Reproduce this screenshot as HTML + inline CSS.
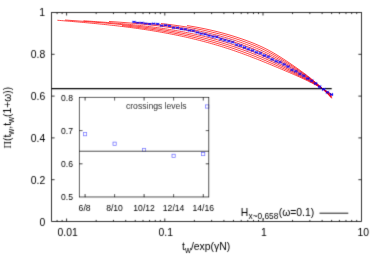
<!DOCTYPE html>
<html><head><meta charset="utf-8"><title>plot</title>
<style>
html,body{margin:0;padding:0;background:#fff;}
svg{display:block;}
text{font-family:"Liberation Sans",sans-serif;fill:#000;}
.s{font-family:"Liberation Serif",serif;}
</style></head><body>
<svg width="380" height="266" viewBox="0 0 380 266">
<defs><filter id="sf" x="0" y="0" width="380" height="266" filterUnits="userSpaceOnUse"><feConvolveMatrix order="3" kernelMatrix="0.0144 0.0912 0.0144 0.0912 0.5776 0.0912 0.0144 0.0912 0.0144" divisor="1" edgeMode="duplicate"/></filter></defs>
<rect width="380" height="266" fill="#fff"/>
<!-- red curves -->
<g fill="none" stroke="#ff0000" stroke-width="0.72">
<path d="M57.4,20.25 L59.4,20.42 L61.4,20.58 L63.4,20.74 L65.4,20.91 L67.4,21.08 L69.4,21.24 L71.4,21.41 L73.4,21.58 L75.4,21.75 L77.4,21.92 L79.4,22.10 L81.4,22.27 L83.4,22.45 L85.4,22.63 L87.4,22.81 L89.4,23.00 L91.4,23.19 L93.4,23.38 L95.4,23.57 L97.4,23.76 L99.4,23.96 L101.4,24.16 L103.4,24.37 L105.4,24.58 L107.4,24.79 L109.4,25.00 L111.4,25.22 L113.4,25.45 L115.4,25.67 L117.4,25.90 L119.4,26.14 L121.4,26.38 L123.4,26.62 L125.4,26.87 L127.4,27.12 L129.4,27.38 L131.4,27.64 L133.4,27.91 L135.4,28.18 L137.4,28.46 L139.4,28.74 L141.4,29.03 L143.4,29.32 L145.4,29.62 L147.4,29.93 L149.4,30.24 L151.4,30.56 L153.4,30.89 L155.4,31.22 L157.4,31.55 L159.4,31.90 L161.4,32.25 L163.4,32.61 L165.4,32.97 L167.4,33.34 L169.4,33.72 L171.4,34.11 L173.4,34.50 L175.4,34.91 L177.4,35.32 L179.4,35.73 L181.4,36.16 L183.4,36.59 L185.4,37.03 L187.4,37.48 L189.4,37.94 L191.4,38.41 L193.4,38.89 L195.4,39.37 L197.4,39.86 L199.4,40.37 L201.4,40.88 L203.4,41.40 L205.4,41.93 L207.4,42.47 L209.4,43.02 L211.4,43.58 L213.4,44.15 L215.4,44.73 L217.4,45.32 L219.4,45.92 L221.4,46.53 L223.4,47.15 L225.4,47.79 L227.4,48.43 L229.4,49.08 L231.4,49.75 L233.4,50.42 L235.4,51.11 L237.4,51.81 L239.4,52.52 L241.4,53.24 L243.4,53.96 L245.4,54.70 L247.4,55.45 L249.4,56.20 L251.4,56.97 L253.4,57.74 L255.4,58.52 L257.4,59.31 L259.4,60.10 L261.4,60.90 L263.4,61.70 L265.4,62.51 L267.4,63.33 L269.4,64.15 L271.4,64.98 L273.4,65.81 L275.4,66.64 L277.4,67.48 L279.4,68.32 L281.4,69.16 L283.4,70.01 L285.4,70.86 L287.4,71.71 L289.4,72.56 L291.4,73.43 L293.4,74.29 L295.4,75.17 L297.4,76.06 L299.4,76.96 L301.4,77.87 L303.4,78.80 L305.4,79.74 L307.4,80.70 L309.4,81.68 L311.4,82.68 L313.4,83.70 L315.4,84.75 L317.4,85.82 L319.4,86.92 L321.4,88.04 L323.4,89.19 L325.4,90.38 L327.4,91.60 L329.4,92.85 L331.4,94.13 L331.7,94.33"/><path d="M122.0,25.53 L124.0,25.76 L126.0,25.98 L128.0,26.22 L130.0,26.45 L132.0,26.70 L134.0,26.94 L136.0,27.20 L138.0,27.45 L140.0,27.72 L142.0,27.99 L144.0,28.26 L146.0,28.54 L148.0,28.83 L150.0,29.12 L152.0,29.42 L154.0,29.72 L156.0,30.04 L158.0,30.35 L160.0,30.68 L162.0,31.01 L164.0,31.35 L166.0,31.70 L168.0,32.05 L170.0,32.41 L172.0,32.78 L174.0,33.15 L176.0,33.54 L178.0,33.93 L180.0,34.33 L182.0,34.74 L184.0,35.16 L186.0,35.58 L188.0,36.01 L190.0,36.46 L192.0,36.91 L194.0,37.37 L196.0,37.84 L198.0,38.32 L200.0,38.81 L202.0,39.31 L204.0,39.81 L206.0,40.33 L208.0,40.86 L210.0,41.40 L212.0,41.95 L214.0,42.51 L216.0,43.08 L218.0,43.66 L220.0,44.25 L222.0,44.85 L224.0,45.46 L226.0,46.09 L228.0,46.73 L230.0,47.37 L232.0,48.03 L234.0,48.70 L236.0,49.39 L238.0,50.08 L240.0,50.78 L242.0,51.50 L244.0,52.23 L246.0,52.96 L248.0,53.71 L250.0,54.47 L252.0,55.24 L254.0,56.01 L256.0,56.80 L258.0,57.60 L260.0,58.41 L262.0,59.22 L264.0,60.05 L266.0,60.89 L268.0,61.73 L270.0,62.59 L272.0,63.45 L274.0,64.32 L276.0,65.21 L278.0,66.09 L280.0,66.99 L282.0,67.89 L284.0,68.80 L286.0,69.71 L288.0,70.62 L290.0,71.54 L292.0,72.47 L294.0,73.41 L296.0,74.36 L298.0,75.32 L300.0,76.30 L302.0,77.29 L304.0,78.29 L306.0,79.31 L308.0,80.35 L310.0,81.42 L312.0,82.50 L314.0,83.62 L316.0,84.76 L318.0,85.93 L320.0,87.13 L322.0,88.36 L324.0,89.63 L326.0,90.94 L328.0,92.28 L330.0,93.67 L331.7,94.88"/><path d="M65.0,20.02 L67.0,20.16 L69.0,20.30 L71.0,20.44 L73.0,20.59 L75.0,20.73 L77.0,20.87 L79.0,21.02 L81.0,21.16 L83.0,21.31 L85.0,21.46 L87.0,21.61 L89.0,21.76 L91.0,21.91 L93.0,22.07 L95.0,22.22 L97.0,22.38 L99.0,22.55 L101.0,22.71 L103.0,22.88 L105.0,23.04 L107.0,23.22 L109.0,23.39 L111.0,23.57 L113.0,23.75 L115.0,23.94 L117.0,24.13 L119.0,24.32 L121.0,24.52 L123.0,24.72 L125.0,24.92 L127.0,25.13 L129.0,25.34 L131.0,25.56 L133.0,25.79 L135.0,26.01 L137.0,26.25 L139.0,26.49 L141.0,26.73 L143.0,26.98 L145.0,27.24 L147.0,27.50 L149.0,27.77 L151.0,28.04 L153.0,28.32 L155.0,28.61 L157.0,28.90 L159.0,29.20 L161.0,29.51 L163.0,29.82 L165.0,30.14 L167.0,30.47 L169.0,30.81 L171.0,31.15 L173.0,31.50 L175.0,31.86 L177.0,32.23 L179.0,32.61 L181.0,32.99 L183.0,33.39 L185.0,33.79 L187.0,34.20 L189.0,34.62 L191.0,35.05 L193.0,35.49 L195.0,35.93 L197.0,36.39 L199.0,36.86 L201.0,37.34 L203.0,37.82 L205.0,38.32 L207.0,38.83 L209.0,39.35 L211.0,39.88 L213.0,40.42 L215.0,40.97 L217.0,41.53 L219.0,42.10 L221.0,42.69 L223.0,43.28 L225.0,43.89 L227.0,44.51 L229.0,45.14 L231.0,45.79 L233.0,46.44 L235.0,47.11 L237.0,47.79 L239.0,48.49 L241.0,49.19 L243.0,49.91 L245.0,50.63 L247.0,51.37 L249.0,52.12 L251.0,52.89 L253.0,53.66 L255.0,54.45 L257.0,55.25 L259.0,56.06 L261.0,56.89 L263.0,57.73 L265.0,58.58 L267.0,59.45 L269.0,60.33 L271.0,61.22 L273.0,62.13 L275.0,63.05 L277.0,63.99 L279.0,64.93 L281.0,65.88 L283.0,66.84 L285.0,67.81 L287.0,68.79 L289.0,69.77 L291.0,70.76 L293.0,71.77 L295.0,72.78 L297.0,73.81 L299.0,74.84 L301.0,75.89 L303.0,76.96 L305.0,78.05 L307.0,79.15 L309.0,80.28 L311.0,81.44 L313.0,82.62 L315.0,83.83 L317.0,85.08 L319.0,86.36 L321.0,87.67 L323.0,89.03 L325.0,90.42 L327.0,91.86 L329.0,93.35 L331.0,94.89 L331.7,95.44"/><path d="M83.5,20.79 L85.5,20.92 L87.5,21.06 L89.5,21.19 L91.5,21.33 L93.5,21.47 L95.5,21.61 L97.5,21.75 L99.5,21.89 L101.5,22.04 L103.5,22.19 L105.5,22.34 L107.5,22.49 L109.5,22.65 L111.5,22.81 L113.5,22.97 L115.5,23.13 L117.5,23.30 L119.5,23.48 L121.5,23.65 L123.5,23.83 L125.5,24.02 L127.5,24.21 L129.5,24.40 L131.5,24.60 L133.5,24.80 L135.5,25.01 L137.5,25.23 L139.5,25.44 L141.5,25.67 L143.5,25.90 L145.5,26.13 L147.5,26.38 L149.5,26.62 L151.5,26.88 L153.5,27.14 L155.5,27.40 L157.5,27.68 L159.5,27.96 L161.5,28.25 L163.5,28.54 L165.5,28.84 L167.5,29.15 L169.5,29.47 L171.5,29.80 L173.5,30.13 L175.5,30.47 L177.5,30.82 L179.5,31.18 L181.5,31.55 L183.5,31.92 L185.5,32.31 L187.5,32.70 L189.5,33.11 L191.5,33.52 L193.5,33.94 L195.5,34.38 L197.5,34.82 L199.5,35.27 L201.5,35.73 L203.5,36.21 L205.5,36.69 L207.5,37.19 L209.5,37.69 L211.5,38.21 L213.5,38.74 L215.5,39.28 L217.5,39.83 L219.5,40.40 L221.5,40.97 L223.5,41.56 L225.5,42.16 L227.5,42.77 L229.5,43.40 L231.5,44.04 L233.5,44.69 L235.5,45.35 L237.5,46.03 L239.5,46.72 L241.5,47.42 L243.5,48.13 L245.5,48.86 L247.5,49.59 L249.5,50.35 L251.5,51.11 L253.5,51.89 L255.5,52.69 L257.5,53.50 L259.5,54.33 L261.5,55.18 L263.5,56.04 L265.5,56.92 L267.5,57.81 L269.5,58.73 L271.5,59.66 L273.5,60.62 L275.5,61.58 L277.5,62.57 L279.5,63.57 L281.5,64.58 L283.5,65.60 L285.5,66.63 L287.5,67.67 L289.5,68.72 L291.5,69.79 L293.5,70.86 L295.5,71.95 L297.5,73.04 L299.5,74.16 L301.5,75.28 L303.5,76.42 L305.5,77.59 L307.5,78.78 L309.5,79.99 L311.5,81.23 L313.5,82.50 L315.5,83.81 L317.5,85.15 L319.5,86.54 L321.5,87.96 L323.5,89.43 L325.5,90.95 L327.5,92.52 L329.5,94.14 L331.5,95.82 L331.7,95.99"/><path d="M109.0,21.47 L111.0,21.60 L113.0,21.73 L115.0,21.87 L117.0,22.01 L119.0,22.15 L121.0,22.29 L123.0,22.44 L125.0,22.60 L127.0,22.75 L129.0,22.92 L131.0,23.08 L133.0,23.25 L135.0,23.43 L137.0,23.61 L139.0,23.79 L141.0,23.99 L143.0,24.18 L145.0,24.39 L147.0,24.59 L149.0,24.81 L151.0,25.03 L153.0,25.26 L155.0,25.49 L157.0,25.73 L159.0,25.98 L161.0,26.23 L163.0,26.50 L165.0,26.77 L167.0,27.04 L169.0,27.33 L171.0,27.62 L173.0,27.92 L175.0,28.23 L177.0,28.55 L179.0,28.88 L181.0,29.22 L183.0,29.56 L185.0,29.92 L187.0,30.28 L189.0,30.66 L191.0,31.04 L193.0,31.44 L195.0,31.84 L197.0,32.26 L199.0,32.69 L201.0,33.12 L203.0,33.57 L205.0,34.03 L207.0,34.50 L209.0,34.98 L211.0,35.48 L213.0,35.98 L215.0,36.50 L217.0,37.03 L219.0,37.57 L221.0,38.13 L223.0,38.69 L225.0,39.28 L227.0,39.87 L229.0,40.48 L231.0,41.10 L233.0,41.73 L235.0,42.38 L237.0,43.04 L239.0,43.72 L241.0,44.41 L243.0,45.11 L245.0,45.83 L247.0,46.56 L249.0,47.30 L251.0,48.07 L253.0,48.85 L255.0,49.65 L257.0,50.47 L259.0,51.31 L261.0,52.17 L263.0,53.05 L265.0,53.96 L267.0,54.89 L269.0,55.84 L271.0,56.82 L273.0,57.83 L275.0,58.86 L277.0,59.91 L279.0,60.97 L281.0,62.06 L283.0,63.17 L285.0,64.28 L287.0,65.41 L289.0,66.56 L291.0,67.71 L293.0,68.88 L295.0,70.07 L297.0,71.26 L299.0,72.47 L301.0,73.70 L303.0,74.94 L305.0,76.20 L307.0,77.49 L309.0,78.81 L311.0,80.16 L313.0,81.54 L315.0,82.97 L317.0,84.43 L319.0,85.94 L321.0,87.50 L323.0,89.11 L325.0,90.77 L327.0,92.50 L329.0,94.28 L331.0,96.13 L331.7,96.79"/><path d="M134.5,22.33 L136.5,22.49 L138.5,22.65 L140.5,22.82 L142.5,23.00 L144.5,23.18 L146.5,23.36 L148.5,23.55 L150.5,23.75 L152.5,23.95 L154.5,24.16 L156.5,24.38 L158.5,24.61 L160.5,24.84 L162.5,25.08 L164.5,25.33 L166.5,25.58 L168.5,25.84 L170.5,26.11 L172.5,26.39 L174.5,26.68 L176.5,26.98 L178.5,27.28 L180.5,27.60 L182.5,27.92 L184.5,28.26 L186.5,28.60 L188.5,28.95 L190.5,29.32 L192.5,29.69 L194.5,30.08 L196.5,30.47 L198.5,30.88 L200.5,31.30 L202.5,31.73 L204.5,32.17 L206.5,32.62 L208.5,33.08 L210.5,33.56 L212.5,34.05 L214.5,34.55 L216.5,35.06 L218.5,35.59 L220.5,36.13 L222.5,36.68 L224.5,37.25 L226.5,37.83 L228.5,38.42 L230.5,39.03 L232.5,39.65 L234.5,40.29 L236.5,40.94 L238.5,41.61 L240.5,42.29 L242.5,42.98 L244.5,43.69 L246.5,44.41 L248.5,45.15 L250.5,45.91 L252.5,46.69 L254.5,47.49 L256.5,48.31 L258.5,49.15 L260.5,50.02 L262.5,50.92 L264.5,51.84 L266.5,52.79 L268.5,53.76 L270.5,54.77 L272.5,55.81 L274.5,56.87 L276.5,57.97 L278.5,59.08 L280.5,60.22 L282.5,61.37 L284.5,62.55 L286.5,63.74 L288.5,64.94 L290.5,66.16 L292.5,67.40 L294.5,68.65 L296.5,69.91 L298.5,71.18 L300.5,72.48 L302.5,73.79 L304.5,75.12 L306.5,76.47 L308.5,77.86 L310.5,79.28 L312.5,80.74 L314.5,82.23 L316.5,83.78 L318.5,85.37 L320.5,87.01 L322.5,88.71 L324.5,90.47 L326.5,92.29 L328.5,94.18 L330.5,96.14 L331.7,97.35"/><path d="M161.0,23.56 L163.0,23.78 L165.0,24.01 L167.0,24.25 L169.0,24.49 L171.0,24.74 L173.0,25.00 L175.0,25.27 L177.0,25.55 L179.0,25.84 L181.0,26.14 L183.0,26.45 L185.0,26.76 L187.0,27.09 L189.0,27.43 L191.0,27.78 L193.0,28.14 L195.0,28.51 L197.0,28.89 L199.0,29.28 L201.0,29.68 L203.0,30.10 L205.0,30.53 L207.0,30.97 L209.0,31.42 L211.0,31.88 L213.0,32.36 L215.0,32.85 L217.0,33.36 L219.0,33.87 L221.0,34.41 L223.0,34.95 L225.0,35.51 L227.0,36.08 L229.0,36.67 L231.0,37.27 L233.0,37.89 L235.0,38.52 L237.0,39.17 L239.0,39.83 L241.0,40.51 L243.0,41.20 L245.0,41.90 L247.0,42.63 L249.0,43.37 L251.0,44.14 L253.0,44.92 L255.0,45.73 L257.0,46.57 L259.0,47.43 L261.0,48.32 L263.0,49.24 L265.0,50.19 L267.0,51.17 L269.0,52.18 L271.0,53.23 L273.0,54.32 L275.0,55.43 L277.0,56.58 L279.0,57.75 L281.0,58.95 L283.0,60.17 L285.0,61.40 L287.0,62.66 L289.0,63.93 L291.0,65.22 L293.0,66.53 L295.0,67.85 L297.0,69.19 L299.0,70.54 L301.0,71.91 L303.0,73.29 L305.0,74.70 L307.0,76.14 L309.0,77.61 L311.0,79.12 L313.0,80.67 L315.0,82.26 L317.0,83.91 L319.0,85.60 L321.0,87.36 L323.0,89.17 L325.0,91.06 L327.0,93.01 L329.0,95.04 L331.0,97.14 L331.7,97.90"/><path d="M187.0,25.57 L189.0,25.89 L191.0,26.22 L193.0,26.56 L195.0,26.91 L197.0,27.28 L199.0,27.65 L201.0,28.04 L203.0,28.44 L205.0,28.85 L207.0,29.28 L209.0,29.72 L211.0,30.17 L213.0,30.63 L215.0,31.11 L217.0,31.60 L219.0,32.11 L221.0,32.63 L223.0,33.16 L225.0,33.71 L227.0,34.27 L229.0,34.85 L231.0,35.44 L233.0,36.05 L235.0,36.68 L237.0,37.32 L239.0,37.97 L241.0,38.64 L243.0,39.33 L245.0,40.03 L247.0,40.75 L249.0,41.50 L251.0,42.26 L253.0,43.05 L255.0,43.86 L257.0,44.71 L259.0,45.58 L261.0,46.48 L263.0,47.42 L265.0,48.39 L267.0,49.39 L269.0,50.43 L271.0,51.52 L273.0,52.64 L275.0,53.80 L277.0,54.99 L279.0,56.21 L281.0,57.46 L283.0,58.73 L285.0,60.03 L287.0,61.35 L289.0,62.68 L291.0,64.04 L293.0,65.41 L295.0,66.79 L297.0,68.20 L299.0,69.62 L301.0,71.05 L303.0,72.50 L305.0,73.98 L307.0,75.49 L309.0,77.04 L311.0,78.62 L313.0,80.25 L315.0,81.93 L317.0,83.65 L319.0,85.44 L321.0,87.29 L323.0,89.21 L325.0,91.19 L327.0,93.26 L329.0,95.40 L331.0,97.63 L331.7,98.43"/>
</g>
<g filter="url(#sf)">
<!-- H line -->
<path d="M51.6,88.5H331.7" stroke="#000" stroke-width="1.25" fill="none"/>
<!-- blue points -->
<path d="M132.4,21.9h3.2M136.3,22.7h3.2M140.3,22.8h3.2M144.2,23.5h3.2M148.2,23.9h3.2M152.1,23.6h3.2M156.1,23.9h3.2M160.0,25.6h3.2M164.0,25.3h3.2M167.9,25.9h3.2M171.9,27.7h3.2M175.8,27.7h3.2M179.8,29.0h3.2M183.7,29.3h3.2M187.7,30.5h3.2M191.6,30.7h3.2M195.6,32.4h3.2M199.5,33.7h3.2M203.5,34.3h3.2M207.4,35.6h3.2M211.4,36.7h3.2M215.3,37.0h3.2M219.3,39.2h3.2M223.2,40.2h3.2M227.2,41.2h3.2M231.1,42.2h3.2M235.1,44.8h3.2M239.0,45.7h3.2M243.0,47.5h3.2M246.9,49.1h3.2M250.9,50.4h3.2M254.8,52.3h3.2M258.8,53.2h3.2M262.7,55.5h3.2M266.7,56.8h3.2M270.6,59.4h3.2M274.6,61.3h3.2M278.5,62.2h3.2M282.5,64.4h3.2M286.4,66.6h3.2M290.4,69.9h3.2M294.3,71.3h3.2M298.3,73.9h3.2M302.2,75.8h3.2M306.2,78.5h3.2M310.1,80.9h3.2M314.1,83.5h3.2M318.0,86.7h3.2M322.0,89.4h3.2M325.9,92.3h3.2M329.9,94.5h3.2" stroke="#0000ff" stroke-width="1.0" fill="none"/><path d="M132.5,21.3l3,1.2M132.5,22.5l3,-1.2M136.4,22.1l3,1.2M136.4,23.3l3,-1.2M140.4,22.2l3,1.3M140.4,23.4l3,-1.3M144.3,22.8l3,1.3M144.3,24.2l3,-1.3M148.3,23.3l3,1.4M148.3,24.6l3,-1.4M152.2,22.9l3,1.4M152.2,24.3l3,-1.4M156.2,23.2l3,1.4M156.2,24.7l3,-1.4M160.1,24.9l3,1.5M160.1,26.3l3,-1.5M164.1,24.5l3,1.5M164.1,26.0l3,-1.5M168.0,25.1l3,1.5M168.0,26.7l3,-1.5M172.0,26.9l3,1.6M172.0,28.5l3,-1.6M175.9,26.9l3,1.7M175.9,28.5l3,-1.7M179.9,28.1l3,1.8M179.9,29.9l3,-1.8M183.8,28.4l3,1.9M183.8,30.3l3,-1.9M187.8,29.5l3,2.0M187.8,31.5l3,-2.0M191.7,29.7l3,2.1M191.7,31.8l3,-2.1M195.7,31.3l3,2.2M195.7,33.5l3,-2.2M199.6,32.5l3,2.3M199.6,34.9l3,-2.3M203.6,33.0l3,2.4M203.6,35.5l3,-2.4M207.5,34.4l3,2.6M207.5,36.9l3,-2.6M211.5,35.3l3,2.7M211.5,38.0l3,-2.7M215.4,35.6l3,2.8M215.4,38.4l3,-2.8M219.4,37.7l3,2.9M219.4,40.6l3,-2.9M223.3,38.7l3,3.0M223.3,41.7l3,-3.0M227.3,39.7l3,3.0M227.3,42.7l3,-3.0M231.2,40.7l3,3.0M231.2,43.7l3,-3.0M235.2,43.3l3,3.0M235.2,46.3l3,-3.0M239.1,44.2l3,3.0M239.1,47.2l3,-3.0M243.1,46.0l3,3.0M243.1,49.0l3,-3.0M247.0,47.6l3,3.0M247.0,50.6l3,-3.0M251.0,48.9l3,3.0M251.0,51.9l3,-3.0M254.9,50.8l3,3.0M254.9,53.8l3,-3.0M258.9,51.7l3,3.0M258.9,54.7l3,-3.0M262.8,54.0l3,3.0M262.8,57.0l3,-3.0M266.8,55.3l3,3.0M266.8,58.3l3,-3.0M270.7,57.9l3,3.0M270.7,60.9l3,-3.0M274.7,59.8l3,3.0M274.7,62.8l3,-3.0M278.6,60.7l3,3.0M278.6,63.7l3,-3.0M282.6,62.9l3,3.0M282.6,65.9l3,-3.0M286.5,65.1l3,3.0M286.5,68.1l3,-3.0M290.5,68.4l3,3.0M290.5,71.4l3,-3.0M294.4,69.8l3,3.0M294.4,72.8l3,-3.0M298.4,72.4l3,3.0M298.4,75.4l3,-3.0M302.3,74.3l3,3.0M302.3,77.3l3,-3.0M306.3,77.0l3,3.0M306.3,80.0l3,-3.0M310.2,79.4l3,3.0M310.2,82.4l3,-3.0M314.2,82.0l3,3.0M314.2,85.0l3,-3.0M318.1,85.2l3,3.0M318.1,88.2l3,-3.0M322.1,87.9l3,3.0M322.1,90.9l3,-3.0M326.0,90.8l3,3.0M326.0,93.8l3,-3.0M330.0,93.0l3,3.0M330.0,96.0l3,-3.0" stroke="#0000ff" stroke-width="0.95" fill="none"/>
<!-- main frame -->
<g fill="none" stroke="#000" stroke-width="0.8">
<rect x="51.6" y="12.5" width="309.79999999999995" height="209.0"/>
<path d="M57.08,221.5v-1.6M57.08,12.5v1.6M62.11,221.5v-1.6M62.11,12.5v1.6M66.60,221.5v-3M66.60,12.5v3M96.16,221.5v-1.6M96.16,12.5v1.6M113.45,221.5v-1.6M113.45,12.5v1.6M125.72,221.5v-1.6M125.72,12.5v1.6M135.24,221.5v-1.6M135.24,12.5v1.6M143.01,221.5v-1.6M143.01,12.5v1.6M149.59,221.5v-1.6M149.59,12.5v1.6M155.28,221.5v-1.6M155.28,12.5v1.6M160.31,221.5v-1.6M160.31,12.5v1.6M164.80,221.5v-3M164.80,12.5v3M194.36,221.5v-1.6M194.36,12.5v1.6M211.65,221.5v-1.6M211.65,12.5v1.6M223.92,221.5v-1.6M223.92,12.5v1.6M233.44,221.5v-1.6M233.44,12.5v1.6M241.21,221.5v-1.6M241.21,12.5v1.6M247.79,221.5v-1.6M247.79,12.5v1.6M253.48,221.5v-1.6M253.48,12.5v1.6M258.51,221.5v-1.6M258.51,12.5v1.6M263.00,221.5v-3M263.00,12.5v3M292.56,221.5v-1.6M292.56,12.5v1.6M309.85,221.5v-1.6M309.85,12.5v1.6M322.12,221.5v-1.6M322.12,12.5v1.6M331.64,221.5v-1.6M331.64,12.5v1.6M339.41,221.5v-1.6M339.41,12.5v1.6M345.99,221.5v-1.6M345.99,12.5v1.6M351.68,221.5v-1.6M351.68,12.5v1.6M356.71,221.5v-1.6M356.71,12.5v1.6M51.6,179.70h3M361.4,179.70h-3M51.6,137.90h3M361.4,137.90h-3M51.6,96.10h3M361.4,96.10h-3M51.6,54.30h3M361.4,54.30h-3"/>
</g>
<!-- inset -->
<rect x="79.5" y="97.5" width="129.25" height="99.5" fill="#fff"/>
<g fill="none" stroke="#5050ff" stroke-width="0.65"><rect x="83.5" y="132.6" width="3.2" height="3.2"/><rect x="113.0" y="142.1" width="3.2" height="3.2"/><rect x="142.5" y="148.3" width="3.2" height="3.2"/><rect x="172.0" y="154.2" width="3.2" height="3.2"/><rect x="201.6" y="152.5" width="3.2" height="3.2"/><rect x="205.6" y="104.9" width="3.2" height="3.2"/></g>
<rect x="79.5" y="97.5" width="129.25" height="99.5" fill="none" stroke="#000" stroke-width="0.8"/>
<path d="M85.1,197.0v-3M85.1,97.5v3M114.6,197.0v-3M114.6,97.5v3M144.1,197.0v-3M144.1,97.5v3M173.6,197.0v-3M173.6,97.5v3M203.3,197.0v-3M203.3,97.5v3M79.5,163.8h3M208.75,163.8h-3M79.5,130.6h3M208.75,130.6h-3" stroke="#000" stroke-width="0.8" fill="none"/>
<path d="M79.5,151.25H208.75" stroke="#000" stroke-width="0.8" fill="none"/>
<!-- main tick labels -->
<g font-size="10.4px" text-anchor="end">
<text x="45" y="16.2">1</text>
<text x="45.3" y="58.1">0.8</text>
<text x="45.3" y="99.9">0.6</text>
<text x="45.3" y="141.9">0.4</text>
<text x="45.3" y="183.7">0.2</text>
<text x="45.3" y="225.6">0</text>
</g>
<g font-size="10.4px" text-anchor="middle">
<text x="67.6" y="236.1">0.01</text>
<text x="165.8" y="236.1">0.1</text>
<text x="264" y="236.1">1</text>
<text x="363.2" y="236.1">10</text>
</g>
<!-- inset labels -->
<g font-size="8.6px" text-anchor="end">
<text x="73" y="100.6">0.8</text>
<text x="73" y="133.7">0.7</text>
<text x="73" y="166.9">0.6</text>
<text x="73" y="200">0.5</text>
</g>
<g font-size="8.6px" text-anchor="middle">
<text x="84.6" y="210.7">6/8</text>
<text x="114.5" y="210.7">8/10</text>
<text x="144.1" y="210.7">10/12</text>
<text x="173.6" y="210.7">12/14</text>
<text x="203.3" y="210.7">14/16</text>
</g>
<text x="186.6" y="109" font-size="8.6px" text-anchor="end">crossings levels</text>
<!-- legend -->
<text x="240.7" y="215.9" font-size="10.4px">H<tspan font-size="8.3px" dy="2.8" dx="0.3">x~0,658</tspan><tspan dy="-2.8" dx="0.4">(ω=0.1)</tspan></text>
<path d="M319.5,213.2H348.3" stroke="#000" stroke-width="0.9" fill="none"/>
<!-- x label -->
<text x="182" y="250.3" font-size="10.4px">t<tspan font-size="8.3px" dy="3">w</tspan><tspan dy="-3">/exp(γN)</tspan></text>
<!-- y label -->
<text transform="translate(11.1,148.4) rotate(-90)" font-size="10.3px"><tspan class="s">Π</tspan>(t<tspan font-size="8.3px" dy="3">w</tspan><tspan dy="-3">,t</tspan><tspan font-size="8.3px" dy="3">w</tspan><tspan dy="-3">(1+ω))</tspan></text>
</g>
</svg>
</body></html>
